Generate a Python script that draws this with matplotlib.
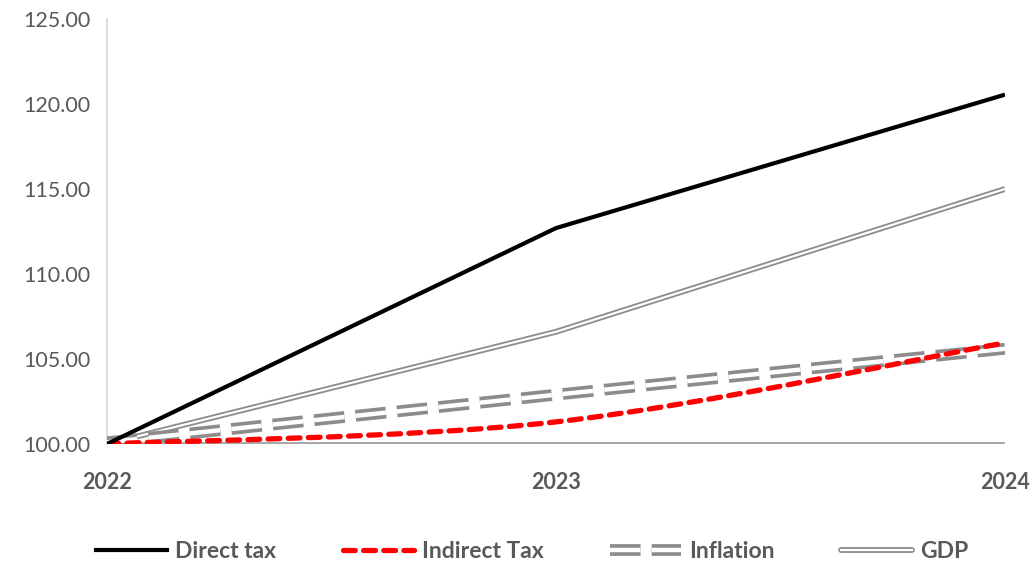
import matplotlib
matplotlib.use("Agg")
import matplotlib.pyplot as plt
from matplotlib.path import Path
from matplotlib.patches import PathPatch
from matplotlib.lines import Line2D
import numpy as np

plt.rcParams['font.family'] = ['Lato', 'DejaVu Sans']
plt.rcParams['lines.scale_dashes'] = False

years = [2022, 2023, 2024]
direct_tax = [100.0, 112.7, 120.55]
indirect_tax = [100.0, 101.3, 105.95]
inflation = [100.1, 102.9, 105.6]
gdp = [100.0, 106.6, 115.0]
y_ticks = [100, 105, 110, 115, 120, 125]

TXT = '#595959'
RED_DASH = (0, (8.5, 6))
INF_DASH = (0, (22, 8))

fig = plt.figure(figsize=(10.33, 5.63), dpi=100)
ax = fig.add_axes([0.1036, 0.2114, 0.8693, 0.7549])


def smooth_path(xs, ys):
    pts = np.column_stack([xs, ys]).astype(float)
    n = len(pts)
    verts = [pts[0]]
    codes = [Path.MOVETO]
    for i in range(n - 1):
        p0 = pts[i - 1] if i > 0 else pts[i]
        p1 = pts[i]
        p2 = pts[i + 1]
        p3 = pts[i + 2] if i + 2 < n else pts[i + 1]
        c1 = p1 + (p2 - p0) / 6.0
        c2 = p2 - (p3 - p1) / 6.0
        verts += [c1, c2, p2]
        codes += [Path.CURVE4] * 3
    return Path(verts, codes)


# Baseline
ax.axhline(100, color='#A6A6A6', lw=2.8, zorder=1)

# GDP (double line)
ax.plot(years, gdp, color='#8C8C8C', lw=4.2, solid_capstyle='butt', zorder=3)
ax.plot(years, gdp, color='white', lw=1.6, solid_capstyle='butt', zorder=3.1)

# Inflation (double dashed line)
p_out = PathPatch(smooth_path(years, inflation), fill=False, edgecolor='#8C8C8C', lw=8.5,
                  linestyle=INF_DASH, capstyle='butt', zorder=3.5)
p_in = PathPatch(smooth_path(years, inflation), fill=False, edgecolor='white', lw=3.2,
                 linestyle=INF_DASH, capstyle='butt', zorder=3.6)
ax.add_patch(p_out)
ax.add_patch(p_in)

# Indirect tax (smoothed red dashed)
p_red = PathPatch(smooth_path(years, indirect_tax), fill=False, edgecolor='#FF0000', lw=3.8,
                  linestyle=RED_DASH, capstyle='round', zorder=4)
ax.add_patch(p_red)

# Direct tax
ax.plot(years, direct_tax, color='black', lw=3.0, zorder=5, solid_capstyle='butt')

ax.set_xlim(2022, 2024)
ax.set_ylim(100, 125)
ax.set_xticks(years)
ax.set_xticklabels([str(y) for y in years], fontsize=15.5, fontweight='bold', color=TXT)
ax.set_yticks(y_ticks)
ax.set_yticklabels([f"{v:.2f}" for v in y_ticks], fontsize=15.5, color=TXT)
ax.tick_params(axis='both', length=0)
ax.tick_params(axis='x', pad=20)
ax.tick_params(axis='y', pad=12)
for s in ['top', 'right', 'bottom']:
    ax.spines[s].set_visible(False)
ax.spines['left'].set_color('#D9D9D9')
ax.spines['left'].set_linewidth(1.2)

# Legend
h_direct = Line2D([], [], color='black', lw=3.0)
h_ind = Line2D([], [], color='#FF0000', lw=3.8, linestyle=RED_DASH, dash_capstyle='round')
h_inf1 = Line2D([], [], color='#8C8C8C', lw=8.5, linestyle=INF_DASH)
h_inf2 = Line2D([], [], color='white', lw=3.2, linestyle=INF_DASH)
h_gdp1 = Line2D([], [], color='#8C8C8C', lw=4.2, solid_capstyle='round')
h_gdp2 = Line2D([], [], color='white', lw=1.6)
leg = fig.legend([h_direct, h_ind, (h_inf1, h_inf2), (h_gdp1, h_gdp2)],
                 ['Direct tax', 'Indirect Tax', 'Inflation', 'GDP'],
                 loc='center', bbox_to_anchor=(0.515, 0.021), ncol=4, frameon=False,
                 handlelength=3.1, handletextpad=0.35, columnspacing=2.9,
                 prop={'size': 16.5, 'weight': 'bold'})
for t in leg.get_texts():
    t.set_color(TXT)

fig.savefig('out.png', dpi=100)
